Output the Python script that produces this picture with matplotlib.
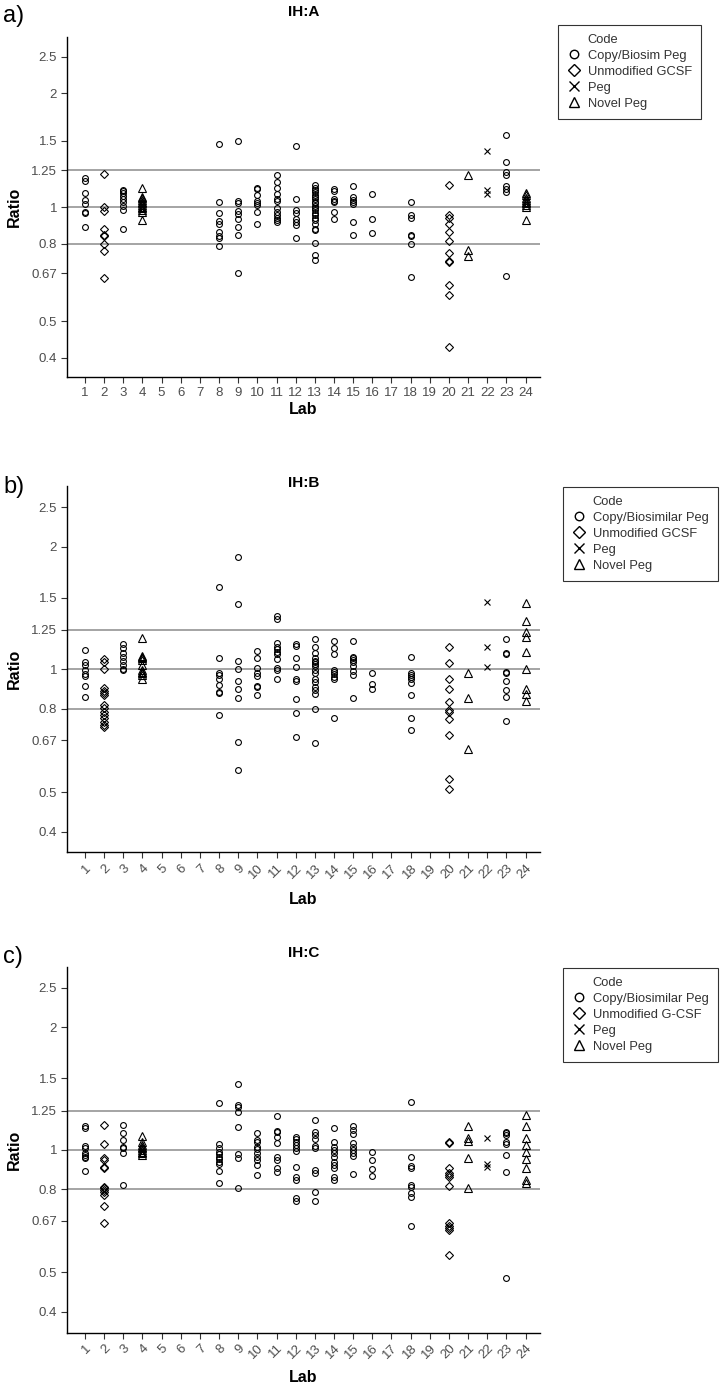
import matplotlib
matplotlib.use("Agg")
import matplotlib.pyplot as plt
from matplotlib.lines import Line2D

plt.rcParams['font.family'] = ['Liberation Sans', 'DejaVu Sans']

labs = list(range(1, 25))
y_ticks = [0.4, 0.5, 0.67, 0.8, 1, 1.25, 1.5, 2, 2.5]
y_tick_labels = ['0.4', '0.5', '0.67', '0.8', '1', '1.25', '1.5', '2', '2.5']
ref_lines = [0.8, 1, 1.25]

# ---- panel a (IH:A) ----
a_copy = {
    1: [1.193, 1.174, 1.091, 1.044, 1.020, 0.970, 0.964, 0.885],
    3: [1.111, 1.100, 1.089, 1.071, 1.052, 1.029, 1.008, 0.980, 0.878],
    8: [1.467, 1.035, 0.968, 0.920, 0.904, 0.859, 0.840, 0.828, 0.790],
    9: [1.500, 1.039, 1.025, 0.978, 0.958, 0.932, 0.885, 0.845, 0.672],
    10: [1.127, 1.116, 1.078, 1.039, 1.027, 1.014, 0.974, 0.905],
    11: [1.213, 1.167, 1.122, 1.085, 1.052, 1.041, 0.994, 0.974, 0.954, 0.939, 0.926, 0.916],
    12: [1.447, 1.050, 0.984, 0.968, 0.930, 0.916, 0.898, 0.828],
    13: [1.141, 1.127, 1.111, 1.095, 1.080, 1.065, 1.050, 1.035, 1.023, 1.008, 0.994,
         0.980, 0.966, 0.951, 0.937, 0.926, 0.905, 0.878, 0.869, 0.805, 0.747, 0.726],
    14: [1.118, 1.100, 1.050, 1.039, 1.033, 0.974, 0.932],
    15: [1.134, 1.061, 1.045, 1.031, 1.020, 0.911, 0.845],
    16: [1.082, 0.933, 0.854],
    18: [1.035, 0.951, 0.939, 0.845, 0.837, 0.797, 0.653],
    23: [1.547, 1.320, 1.235, 1.218, 1.134, 1.118, 1.095, 0.659],
}
a_gcsf = {
    2: [1.225, 1.004, 0.976, 0.876, 0.845, 0.837, 0.797, 0.764, 0.649],
    20: [1.143, 0.954, 0.935, 0.904, 0.862, 0.815, 0.756, 0.723, 0.716, 0.622, 0.585, 0.426],
}
a_peg = {22: [1.409, 1.107, 1.082]}
a_novel = {
    4: [1.122, 1.067, 1.056, 1.046, 1.035, 1.025, 1.014, 1.004, 0.994, 0.984, 0.974, 0.926],
    21: [1.215, 0.771, 0.744],
    24: [1.089, 1.078, 1.056, 1.046, 1.035, 1.025, 1.014, 1.004, 0.926],
}

# ---- panel b (IH:B) ----
b_copy = {
    1: [1.116, 1.044, 1.025, 0.996, 0.972, 0.963, 0.912, 0.857],
    3: [1.154, 1.126, 1.099, 1.074, 1.050, 1.025, 1.002, 0.996],
    8: [1.596, 1.066, 0.978, 0.968, 0.945, 0.915, 0.880, 0.873, 0.772],
    9: [1.884, 1.450, 1.050, 1.000, 0.938, 0.896, 0.850, 0.664, 0.568],
    10: [1.107, 1.064, 1.006, 0.978, 0.963, 0.912, 0.906, 0.865],
    11: [1.355, 1.327, 1.158, 1.137, 1.120, 1.105, 1.089, 1.058, 1.006, 0.996, 0.945],
    12: [1.154, 1.141, 1.064, 1.011, 0.949, 0.938, 0.844, 0.783, 0.683],
    13: [1.185, 1.132, 1.099, 1.064, 1.050, 1.040, 1.031, 1.021, 0.996, 0.981, 0.945,
         0.929, 0.906, 0.890, 0.868, 0.800, 0.659],
    14: [1.176, 1.126, 1.091, 0.996, 0.987, 0.974, 0.959, 0.947, 0.761],
    15: [1.176, 1.074, 1.064, 1.054, 1.044, 1.021, 0.991, 0.968, 0.850],
    16: [0.981, 0.919, 0.895],
    18: [1.074, 0.981, 0.968, 0.956, 0.947, 0.924, 0.865, 0.761, 0.712],
    23: [1.185, 1.099, 1.091, 0.987, 0.978, 0.938, 0.890, 0.857, 0.749],
}
b_gcsf = {
    2: [1.058, 1.044, 1.000, 0.898, 0.885, 0.876, 0.865, 0.820, 0.802, 0.787, 0.772,
        0.758, 0.744, 0.730, 0.723],
    20: [1.137, 1.038, 0.945, 0.893, 0.830, 0.795, 0.787, 0.756, 0.692, 0.539, 0.509],
}
b_peg = {22: [1.466, 1.137, 1.015]}
b_novel = {
    4: [1.192, 1.078, 1.074, 1.068, 1.054, 1.025, 0.996, 0.987, 0.978, 0.968, 0.945],
    21: [0.978, 0.853, 0.638],
    24: [1.458, 1.314, 1.237, 1.203, 1.103, 1.002, 0.893, 0.868, 0.836],
}

# ---- panel c (IH:C) ----
c_copy = {
    1: [1.146, 1.135, 1.023, 1.013, 0.985, 0.972, 0.963, 0.954, 0.890],
    3: [1.152, 1.099, 1.058, 1.019, 1.010, 0.981, 0.820],
    8: [1.307, 1.035, 1.010, 0.991, 0.976, 0.963, 0.949, 0.936, 0.922, 0.890, 0.828],
    9: [1.450, 1.290, 1.278, 1.242, 1.141, 0.978, 0.954, 0.808],
    10: [1.099, 1.058, 1.048, 1.019, 1.006, 0.981, 0.963, 0.945, 0.919, 0.868],
    11: [1.212, 1.116, 1.105, 1.078, 1.038, 0.963, 0.945, 0.901, 0.885],
    12: [1.078, 1.064, 1.048, 1.029, 1.013, 0.996, 0.910, 0.857, 0.844, 0.760, 0.749],
    13: [1.185, 1.109, 1.089, 1.064, 1.023, 1.010, 0.893, 0.876, 0.790, 0.749],
    14: [1.131, 1.048, 1.019, 1.000, 0.981, 0.959, 0.936, 0.919, 0.901, 0.857, 0.844],
    15: [1.148, 1.120, 1.095, 1.038, 1.015, 1.000, 0.981, 0.967, 0.871],
    16: [0.987, 0.945, 0.896, 0.863],
    18: [1.314, 0.959, 0.913, 0.901, 0.820, 0.809, 0.782, 0.768, 0.650],
    23: [1.109, 1.099, 1.089, 1.048, 1.033, 0.972, 0.885, 0.484],
}
c_gcsf = {
    2: [1.152, 1.033, 0.954, 0.945, 0.906, 0.901, 0.812, 0.805, 0.797, 0.790, 0.775,
        0.730, 0.660],
    20: [1.048, 1.038, 0.901, 0.880, 0.868, 0.860, 0.816, 0.660, 0.652, 0.644, 0.636, 0.552],
}
c_peg = {22: [1.068, 0.924, 0.906]}
c_novel = {
    4: [1.083, 1.048, 1.029, 1.019, 1.010, 1.000, 0.991, 0.981, 0.972],
    21: [1.146, 1.068, 1.052, 0.958, 0.805],
    24: [1.219, 1.146, 1.072, 1.029, 0.987, 0.950, 0.901, 0.844, 0.831],
}

a_labels = ['Copy/Biosim Peg', 'Unmodified GCSF', 'Peg', 'Novel Peg']
b_labels = ['Copy/Biosimilar Peg', 'Unmodified GCSF', 'Peg', 'Novel Peg']
c_labels = ['Copy/Biosimilar Peg', 'Unmodified G-CSF', 'Peg', 'Novel Peg']

markers = [('o', 4.2), ('D', 4.2), ('x', 4.5), ('^', 5.2)]

W, H = 725, 1388
fig = plt.figure(figsize=(W / 100, H / 100), dpi=100)


def fx(px):
    return px / W


def fy(py):
    return 1 - py / H


panels = [
    # title, tag, data, labels, axes box (px), rotate, title y, lab y, legend (x, y)
    ('IH:A', 'a)', [a_copy, a_gcsf, a_peg, a_novel], a_labels, (66.7, 36.7, 540, 377), 0, 12, 410, (558, 25)),
    ('IH:B', 'b)', [b_copy, b_gcsf, b_peg, b_novel], b_labels, (66.7, 485.8, 540, 852.3), 45, 483, 899, (563, 487)),
    ('IH:C', 'c)', [c_copy, c_gcsf, c_peg, c_novel], c_labels, (66.7, 966.7, 540, 1332.5), 45, 953, 1378, (563, 968)),
]

for title, tag, groups, leg_labels, box, rot, ty, ly, legxy in panels:
    x0, y0, x1, y1 = box
    ax = fig.add_axes([fx(x0), fy(y1), fx(x1 - x0), (y1 - y0) / H])
    ax.set_yscale('log')
    ax.set_ylim(0.356, 2.82)
    ax.set_xlim(0.05, 24.75)
    for r in ref_lines:
        ax.axhline(r, color='#8c8c8c', lw=1.1, zorder=1)
    for grp, (m, ms) in zip(groups, markers):
        xs, ys = [], []
        for lab, vals in grp.items():
            xs += [lab] * len(vals)
            ys += vals
        ax.plot(xs, ys, linestyle='none', marker=m, ms=ms, mfc='none',
                mec='black', mew=0.8, zorder=3)
    ax.set_yticks(y_ticks)
    ax.set_yticklabels(y_tick_labels)
    ax.minorticks_off()
    ax.set_xticks(labs)
    if rot:
        ax.set_xticklabels([str(l) for l in labs], rotation=45, ha='right',
                           rotation_mode='anchor')
    else:
        ax.set_xticklabels([str(l) for l in labs])
    ax.tick_params(axis='both', labelsize=9.5, labelcolor='#4d4d4d',
                   color='#333333', length=4, width=0.8, pad=3)
    for s in ['top', 'right']:
        ax.spines[s].set_visible(False)
    for s in ['left', 'bottom']:
        ax.spines[s].set_linewidth(1.0)

    fig.text(fx((x0 + x1) / 2), fy(ty), title, ha='center', va='center',
             fontsize=11, fontweight='bold')
    fig.text(fx(3), fy(ty + 4), tag, ha='left', va='center', fontsize=17)
    fig.text(fx((x0 + x1) / 2), fy(ly), 'Lab', ha='center', va='center',
             fontsize=11.5, fontweight='bold')
    fig.text(fx(14), fy((y0 + y1) / 2), 'Ratio', ha='center', va='center',
             rotation=90, fontsize=11.5, fontweight='bold')

    handles = [Line2D([], [], linestyle='none', marker='none')]
    for m, ms in markers:
        handles.append(Line2D([], [], linestyle='none', marker=m, ms=ms * 1.45,
                              mfc='none', mec='black', mew=1.0))
    leg = ax.legend(handles, ['Code'] + leg_labels, loc='upper left',
                    bbox_to_anchor=(fx(legxy[0]), fy(legxy[1])),
                    bbox_transform=fig.transFigure, frameon=True, fancybox=False,
                    fontsize=9.3, handlelength=1.0, handletextpad=0.6,
                    borderpad=0.7, labelspacing=0.3, borderaxespad=0)
    leg.get_frame().set_edgecolor('black')
    leg.get_frame().set_linewidth(0.8)
    for t in leg.get_texts():
        t.set_color('#333333')

fig.savefig('out.png', dpi=100)
